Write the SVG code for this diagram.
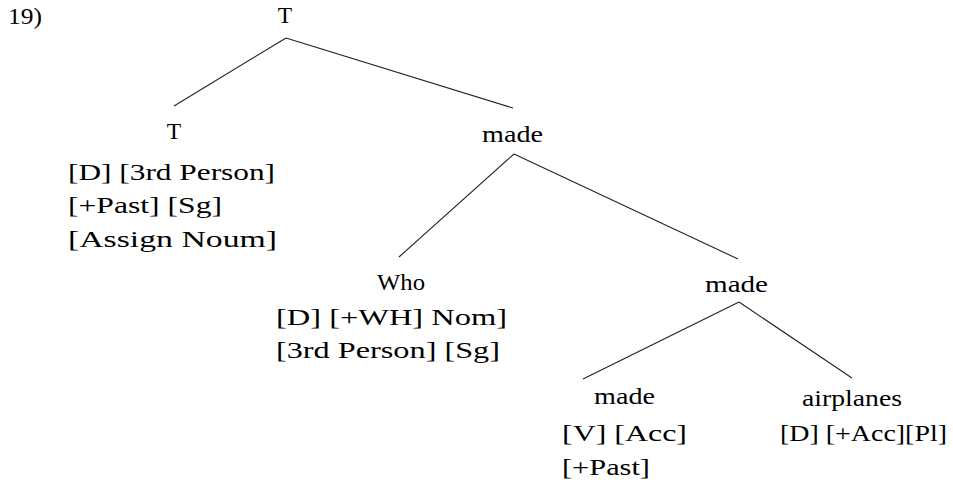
<svg xmlns="http://www.w3.org/2000/svg" width="953" height="484" viewBox="0 0 953 484">
<style>
text{font-family:"Liberation Serif","Times New Roman",serif;font-size:23.5px;fill:#000;}
.c{text-anchor:middle;}
line{stroke:#222;stroke-width:1.1;}
</style>
<rect width="953" height="484" fill="#fff"/>
<text x="8" y="24" textLength="34" lengthAdjust="spacingAndGlyphs">19)</text>
<g id="connectors">
<line x1="286" y1="38" x2="174" y2="106"/>
<line x1="286" y1="38" x2="513" y2="108"/>
<line x1="514" y1="154" x2="399" y2="257"/>
<line x1="514" y1="154" x2="738" y2="259"/>
<line x1="739" y1="302" x2="583" y2="379"/>
<line x1="739" y1="302" x2="852" y2="378"/>
</g>
<g id="n-root"><text class="c" x="285" y="23">T</text></g>
<g id="n-t">
<text class="c" x="174" y="139">T</text>
<text x="68" y="180" textLength="207" lengthAdjust="spacingAndGlyphs">[D] [3rd Person]</text>
<text x="68" y="213" textLength="154" lengthAdjust="spacingAndGlyphs">[+Past] [Sg]</text>
<text x="68" y="247" textLength="209" lengthAdjust="spacingAndGlyphs">[Assign Noum]</text>
</g>
<g id="n-made1"><text x="482" y="142" textLength="61" lengthAdjust="spacingAndGlyphs">made</text></g>
<g id="n-who">
<text x="377" y="290" textLength="48" lengthAdjust="spacingAndGlyphs">Who</text>
<text x="276" y="325" textLength="231" lengthAdjust="spacingAndGlyphs">[D] [+WH] Nom]</text>
<text x="276" y="358" textLength="224" lengthAdjust="spacingAndGlyphs">[3rd Person] [Sg]</text>
</g>
<g id="n-made2"><text x="705" y="292" textLength="63" lengthAdjust="spacingAndGlyphs">made</text></g>
<g id="n-made3">
<text x="594" y="404" textLength="61" lengthAdjust="spacingAndGlyphs">made</text>
<text x="562" y="441" textLength="125" lengthAdjust="spacingAndGlyphs">[V] [Acc]</text>
<text x="562" y="475" textLength="88" lengthAdjust="spacingAndGlyphs">[+Past]</text>
</g>
<g id="n-airplanes">
<text x="802" y="406" textLength="100" lengthAdjust="spacingAndGlyphs">airplanes</text>
<text x="780" y="441" textLength="167" lengthAdjust="spacingAndGlyphs">[D] [+Acc][Pl]</text>
</g>
</svg>
